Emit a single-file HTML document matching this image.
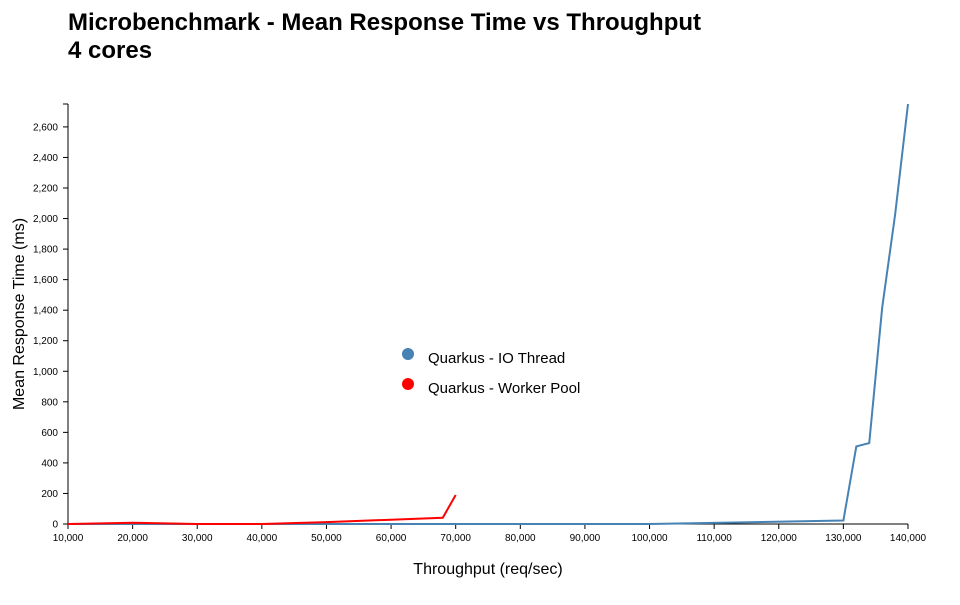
<!DOCTYPE html>
<html><head><meta charset="utf-8"><style>
body{margin:0;background:#fff;font-family:"Liberation Sans",sans-serif;}
svg text{font-family:"Liberation Sans",sans-serif;}
</style></head><body>
<svg width="960" height="600">
<text x="68" y="30" font-size="24" font-weight="bold">Microbenchmark - Mean Response Time vs Throughput</text>
<text x="68" y="58" font-size="24" font-weight="bold">4 cores</text>
<g id="axes"></g>
<g id="series"></g>
<text x="488" y="574" font-size="16" text-anchor="middle">Throughput (req/sec)</text>
<text transform="translate(24,314) rotate(-90)" font-size="16" text-anchor="middle">Mean Response Time (ms)</text>
<g>
<circle cx="408" cy="354" r="6" fill="steelblue"/>
<text x="428" y="363" font-size="15">Quarkus - IO Thread</text>
<circle cx="408" cy="384" r="6" fill="red"/>
<text x="428" y="393" font-size="15">Quarkus - Worker Pool</text>
</g>
</svg>
<script>
const xTicks=[10000,20000,30000,40000,50000,60000,70000,80000,90000,100000,110000,120000,130000,140000];
const yTicks=[0,200,400,600,800,1000,1200,1400,1600,1800,2000,2200,2400,2600];
const ioX=[10000,20000,30000,40000,50000,60000,70000,80000,90000,100000,130000,132000,134000,136000,138000,140000];
const ioY=[0,0,0,0,0,0,0,0,0,0,23,508,530,1415,2024,2750];
const wpX=[10000,20000,30000,40000,50000,68000,70000];
const wpY=[0,8,0,0,12,41,190];
const X0=68,X1=908,Y0=524,Y1=104,xMin=10000,xMax=140000,yMax=2750;
const sx=v=>X0+(v-xMin)/(xMax-xMin)*(X1-X0);
const sy=v=>Y0-v/yMax*(Y0-Y1);
const NS="http://www.w3.org/2000/svg";
const ax=document.getElementById('axes'),se=document.getElementById('series');
function mk(tag,at,parent){const e=document.createElementNS(NS,tag);for(const k in at)e.setAttribute(k,at[k]);parent.appendChild(e);return e;}
let xl=mk('line',{x1:X0,x2:X1,y1:Y0,y2:Y0,stroke:'#000'},ax);


let yl=mk('line',{x1:X0,x2:X0,y1:Y0,y2:Y1,stroke:'#000'},ax);


mk('line',{x1:X0-5,x2:X0,y1:Y1,y2:Y1,stroke:'#000'},ax);
xTicks.forEach(t=>{const x=sx(t);
mk('line',{x1:x,x2:x,y1:Y0,y2:Y0+5,stroke:'#000'},ax);
const tx=mk('text',{x:x,y:Y0+17,'font-size':10,'text-anchor':'middle'},ax);tx.textContent=t.toLocaleString('en-US');

});
yTicks.forEach(t=>{const y=sy(t);
mk('line',{x1:X0-5,x2:X0,y1:y,y2:y,stroke:'#000'},ax);
const tx=mk('text',{x:X0-10,y:y+3.5,'font-size':10,'text-anchor':'end'},ax);tx.textContent=t.toLocaleString('en-US');

});
function line(xs,ys,c,name){const p=mk('path',{d:xs.map((v,i)=>(i?'L':'M')+sx(v)+','+sy(ys[i])).join(''),fill:'none',stroke:c,'stroke-width':2},se);

}
line(ioX,ioY,'steelblue','io-thread-line');
line(wpX,wpY,'red','worker-pool-line');
</script>
</body></html>
